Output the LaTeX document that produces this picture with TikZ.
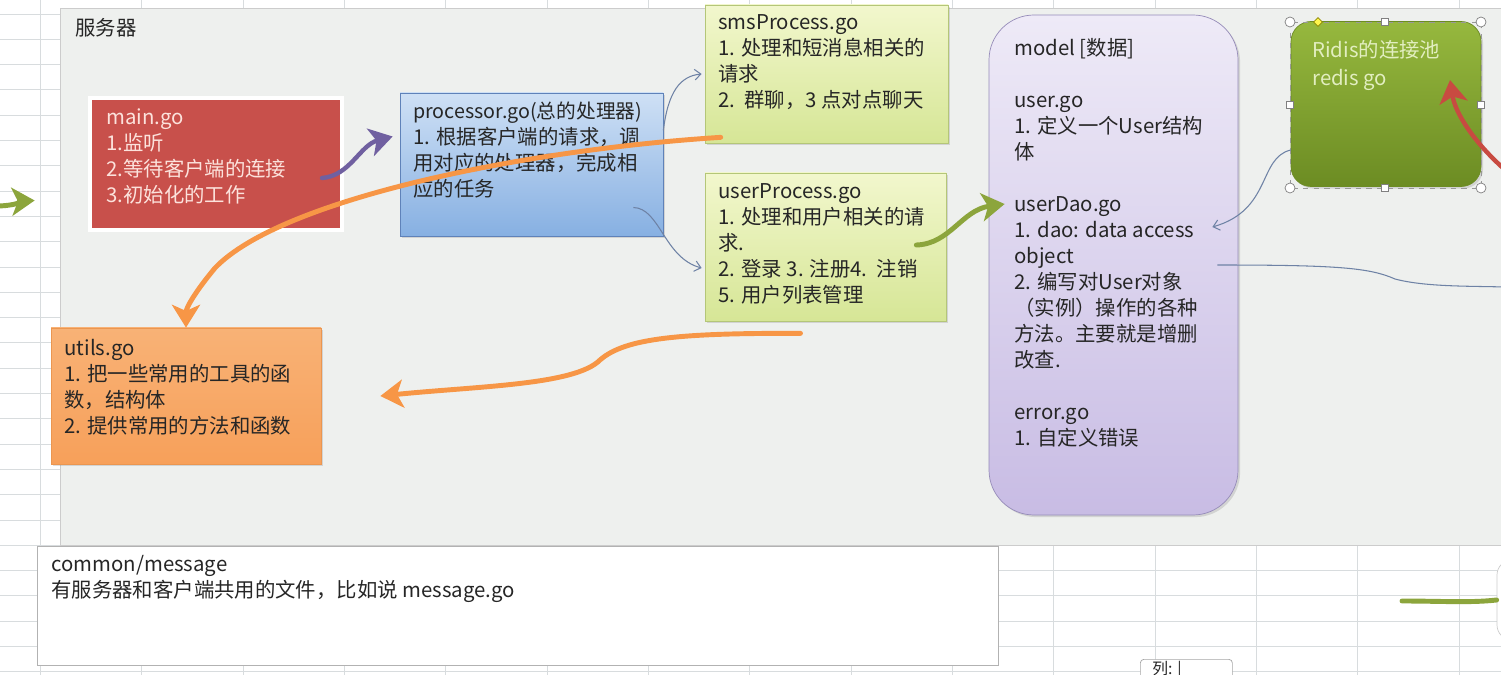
\documentclass[tikz,border=0pt]{standalone}
\usepackage{fontspec}
\setmainfont{Noto Sans CJK SC}
\usetikzlibrary{arrows.meta,shadows,shapes.geometric}

\newdimen\pxu
\pxu=0.02cm

\definecolor{serverbg}{RGB}{238,240,238}
\definecolor{gridgray}{RGB}{216,220,222}
\definecolor{mainred}{RGB}{200,80,75}
\definecolor{maintext}{RGB}{252,226,220}
\definecolor{procblueT}{RGB}{206,224,245}
\definecolor{procblueB}{RGB}{135,176,226}
\definecolor{procedge}{RGB}{95,130,185}
\definecolor{limeT}{RGB}{242,247,205}
\definecolor{limeB}{RGB}{214,230,150}
\definecolor{limeedge}{RGB}{180,198,120}
\definecolor{lilacT}{RGB}{238,234,247}
\definecolor{lilacB}{RGB}{200,188,228}
\definecolor{lilacedge}{RGB}{150,140,185}
\definecolor{redisT}{RGB}{150,184,62}
\definecolor{redisB}{RGB}{108,140,35}
\definecolor{redistext}{RGB}{226,238,192}
\definecolor{orangeT}{RGB}{248,178,118}
\definecolor{orangeM}{RGB}{252,214,180}
\definecolor{orangeB}{RGB}{247,160,90}
\definecolor{orangeedge}{RGB}{235,150,80}
\definecolor{arroworange}{RGB}{247,150,70}
\definecolor{arrowpurple}{RGB}{112,96,160}
\definecolor{arrowgreen}{RGB}{140,165,60}
\definecolor{arrowred}{RGB}{200,75,65}
\definecolor{thinblue}{RGB}{110,130,165}

\tikzset{
  filebox/.style={draw, inner sep=0pt, drop shadow={shadow xshift=1.2pt, shadow yshift=-1.2pt, opacity=.25}},
  txt/.style={anchor=north west, inner sep=0pt, align=left, text=black!85,
    font=\fontsize{11.6pt}{14.8pt}\selectfont, execute at begin node=\strut},
  fatarrow/.style={line width=2.8pt, line cap=round, -{Stealth[length=13pt,width=16pt,inset=3.5pt]}},
  thinarrow/.style={thinblue, line width=0.6pt, -{Straight Barb[length=3.5pt,width=6pt]}},
  gridline/.style={gridgray, line width=0.5pt},
  handlecirc/.style={circle, draw=gray, fill=white, inner sep=0pt, minimum size=10\pxu},
  handlesq/.style={rectangle, draw=gray, fill=white, inner sep=0pt, minimum size=7\pxu},
}

\begin{document}
\begin{tikzpicture}[x=0.02cm, y=-0.02cm]
    \useasboundingbox[fill=white] (0,0) rectangle (1501,675);

    % the sheet grid in the back
    \foreach \gx in {40,141,243,344,445,547,648,749,851,952,1053,1155,1256,1357,1459}
        \draw[gridline] (\gx,0) -- (\gx,675);
    \foreach \gy in {14,39.3,...,680}
        \draw[gridline] (0,\gy) -- (1501,\gy);

    % the server area
    \node[draw=gray!40, fill=serverbg, inner sep=0pt, minimum width=1470\pxu, minimum height=537\pxu] (server) at (795,276.5) {};
    \node[txt] (serverLabel) at (75,17) {服务器};

    % the files (boxes first, texts on top)
    \node[filebox, fill=mainred, draw=white, line width=2.3pt, minimum width=252\pxu, minimum height=132\pxu] (main) at (216,164) {};
    \node[txt, text=maintext] (mainText) at (106,108) {main.go\\1.监听\\2.等待客户端的连接\\3.初始化的工作};

    \node[filebox, draw=procedge, top color=procblueT, bottom color=procblueB, minimum width=263\pxu, minimum height=143\pxu] (proc) at (531.5,164.5) {};
    \node[txt] (procText) at (413,102) {\fontsize{11.2pt}{14.8pt}\selectfont processor.go(总的处理器)\\1. 根据客户端的请求，调\\用对应的处理器，完成相\\应的任务};

    \node[filebox, draw=limeedge, top color=limeT, bottom color=limeB, minimum width=243\pxu, minimum height=138\pxu] (sms) at (826.5,74) {};
    \node[txt] (smsText) at (718,14) {smsProcess.go\\1. 处理和短消息相关的\\请求\\2.\ \ 群聊，3 点对点聊天};

    \node[filebox, draw=limeedge, top color=limeT, bottom color=limeB, minimum width=241\pxu, minimum height=148\pxu] (userProc) at (825.5,247) {};
    \node[txt] (userProcText) at (718,183) {userProcess.go\\1. 处理和用户相关的请\\求.\\2. 登录 3. 注册4.\ \ 注销\\5. 用户列表管理};

    \node[filebox, draw=lilacedge, top color=lilacT, bottom color=lilacB, rounded corners=0.9cm, minimum width=249\pxu, minimum height=500\pxu] (model) at (1113.5,265) {};
    \node[txt] (modelText) at (1014,38) {model [数据]\\\mbox{}\\user.go\\1. 定义一个User结构\\体\\\mbox{}\\userDao.go\\1. dao: data access\\object\\2. 编写对User对象\\（实例）操作的各种\\方法。主要就是增删\\改查.\\\mbox{}\\error.go\\1. 自定义错误};

    \node[filebox, draw=redisB, top color=redisT, bottom color=redisB, rounded corners=0.4cm, minimum width=190\pxu, minimum height=165\pxu] (redis) at (1386,104) {};
    \node[txt, text=redistext, font=\fontsize{11.6pt}{15.9pt}\selectfont] (redisText) at (1312,40) {Ridis的连接池\\redis go};

    % the selection frame round redis
    \draw[gray!80, dashed, line width=0.5pt] (1290,22) rectangle (1481,188);
    \node[handlecirc] (h1) at (1290,22) {};
    \node[handlecirc] (h2) at (1481,22) {};
    \node[handlecirc] (h3) at (1290,188) {};
    \node[handlecirc] (h4) at (1481,188) {};
    \node[handlesq] (h5) at (1385,22) {};
    \node[handlesq] (h6) at (1385,188) {};
    \node[handlesq] (h7) at (1290,105) {};
    \node[handlesq] (h8) at (1481,105) {};
    \node[diamond, draw=olive, fill=yellow!70, inner sep=0pt, minimum size=9\pxu] (h9) at (1318,22) {};

    \node[filebox, draw=orangeedge, top color=orangeT, middle color=orangeM, bottom color=orangeB, minimum width=270\pxu, minimum height=136\pxu] (utils) at (186,396) {};
    \node[txt] (utilsText) at (64,339) {utils.go\\1. 把一些常用的工具的函\\数，结构体\\2. 提供常用的方法和函数};

    \node[draw=gray!60, fill=white, inner sep=0pt, minimum width=961\pxu, minimum height=119\pxu] (common) at (517.5,605.5) {};
    \node[txt] (commonText) at (51,555) {common/message\\有服务器和客户端共用的文件，比如说 message.go};

    % the bits at the edges
    \node[draw=gray!40, fill=white, rounded corners=0.3cm, minimum width=40\pxu, minimum height=80\pxu] (client) at (1517,600) {};
    \node[draw=gray!70, fill=white, rounded corners=2pt, anchor=north west, minimum width=92\pxu, minimum height=30\pxu] (colBox) at (1140,659) {};
    \node[txt, font=\fontsize{9pt}{10pt}\selectfont] (colText) at (1152,661) {列: |};

    \coordinate (clientIn) at (-4,206);
    \coordinate (outR) at (1505,287);
    \coordinate (redisFeed) at (1503,168);
    \coordinate (greenStub) at (1402,601);

    % draw the arrows
    \draw[fatarrow, arrowgreen] (clientIn) .. controls (15,206) and (25,201) .. ([shift={(-25,-76)}]server.west);
    \draw[fatarrow, arrowpurple, line width=2.5pt] ([shift={(-22,14)}]main.east) .. controls (350,176) and (360,145) .. ([shift={(-7,-28)}]proc.west);
    \draw[thinarrow] ([shift={(0,-34)}]proc.east) .. controls (668,92) and (680,76) .. ([shift={(-3,0)}]sms.west);
    \draw[thinarrow] ([shift={(-30,43)}]proc.east) .. controls (660,208) and (664,258) .. ([shift={(-3,21)}]userProc.west);
    \draw[fatarrow, arroworange] ([shift={(16,-6)}]sms.south west) .. controls (520,150) and (280,200) .. (215,268) .. controls (195,292) and (186,308) .. (utils.north);
    \draw[fatarrow, arroworange] ([shift={(-25,12)}]userProc.south) .. controls (680,333) and (625,338) .. (600,360) .. controls (575,385) and (480,386) .. ([shift={(59,0)}]utils.east);
    \draw[fatarrow, arrowgreen] ([shift={(-30,-2)}]userProc.east) .. controls (950,244) and (962,210) .. ([shift={(16,-61)}]model.west);
    \draw[thinarrow] ([shift={(0,46)}]redis.west) .. controls (1258,158) and (1272,210) .. ([shift={(-26,-38)}]model.east);
    \draw[thinblue, line width=0.6pt] ([shift={(-21,0)}]model.east) .. controls (1340,265) and (1370,268) .. (1395,279) .. controls (1425,287) and (1470,286) .. (outR);
    \draw[fatarrow, arrowred, line width=2.5pt] (redisFeed) .. controls (1472,140) and (1455,112) .. ([shift={(64,-24)}]redis.center);
    \draw[arrowgreen, line width=2.8pt, line cap=round] (greenStub) .. controls (1440,601) and (1470,603) .. (client.west);
\end{tikzpicture}
\end{document}
